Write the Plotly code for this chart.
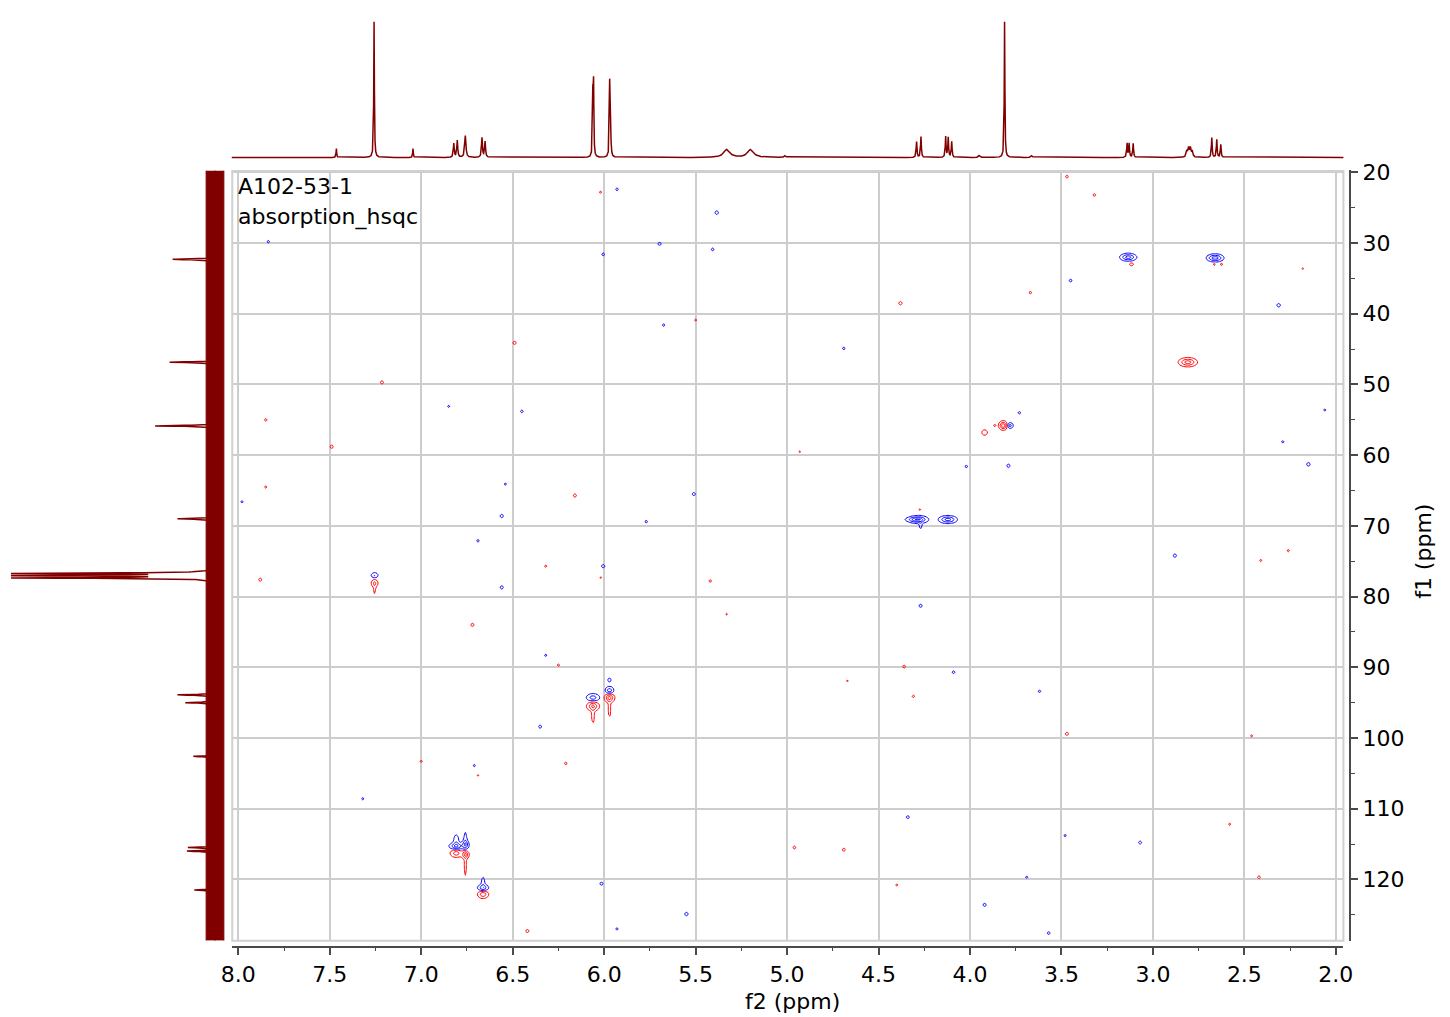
import numpy as np
import plotly.graph_objects as go

W, H = 1450, 1017

# ---------------- 1H projection (top) ----------------
h1_shift = [7.464, 7.258, 7.045, 6.822, 6.803, 6.759, 6.668, 6.651, 6.062, 6.058,
            5.970, 5.966, 5.33, 5.20, 5.01, 4.292, 4.268, 4.133, 4.119, 4.100,
            3.95, 3.811, 3.663, 3.141, 3.130, 3.108, 2.815, 2.805, 2.795, 2.785,
            2.678, 2.651, 2.629]
h1_height = [9, 137, 9, 14, 17, 22, 20, 16, 60, 70,
             68, 58, 8, 8, 2, 16, 21, 21, 20, 16,
             2, 137, 2, 14, 14, 14, 6, 9, 9, 6,
             20, 18, 13]
h1_fwhm = [0.004, 0.004, 0.004, 0.006, 0.006, 0.008, 0.006, 0.006, 0.004, 0.004,
           0.004, 0.004, 0.04, 0.04, 0.01, 0.005, 0.005, 0.005, 0.005, 0.005,
           0.01, 0.004, 0.01, 0.005, 0.005, 0.005, 0.008, 0.008, 0.008, 0.008,
           0.005, 0.005, 0.005]

# ---------------- 13C projection (left) ----------------
c13_shift = [32.3, 46.85, 55.85, 69.0, 76.72, 77.04, 77.36, 93.9, 95.0, 102.6,
             115.5, 116.0, 121.5]
c13_height = [43, 47, 62, 38, 198, 198, 198, 38, 30, 22, 27, 28, 21]
c13_noise = 9

# ---------------- HSQC cross peaks ----------------
# (f2 ppm, f1 ppm, signed intensity, f2 width ppm, f1 width ppm)
hsqc_f2 = [7.255, 7.255, 7.255,
           6.809, 6.809, 6.759, 6.759, 6.809, 6.759, 6.759,
           6.662, 6.662, 6.662,
           6.061, 6.061, 6.061, 5.971, 5.971, 5.971, 5.971,
           4.283, 4.270, 4.310, 4.121,
           3.782, 3.818, 3.865, 3.920,
           3.135, 3.117, 2.675, 2.645, 2.665, 2.625, 2.809]
hsqc_f1 = [77.0, 78.1, 79.0,
           115.3, 114.5, 115.1, 114.3, 116.3, 116.5, 118.0,
           121.2, 120.4, 122.1,
           94.3, 95.5, 96.8, 93.3, 91.8, 94.3, 95.9,
           69.1, 69.8, 69.1, 69.1,
           55.8, 55.8, 55.8, 56.8,
           32.0, 33.0, 32.1, 32.1, 33.0, 33.0, 46.85]
hsqc_amp = [1.6, -1.6, -0.8,
            2.5, 1.2, 2.2, 1.0, -2.0, -2.5, -1.0,
            2.2, 1.0, -2.2,
            2.0, -2.5, -1.0, 2.2, 0.9, -2.8, -1.0,
            3.0, 1.0, 1.0, 3.0,
            2.0, -3.2, -0.8, -1.5,
            3.0, -1.2, 2.0, 2.0, -0.9, -0.9, -3.0]
hsqc_w2 = [0.012, 0.012, 0.005,
           0.022, 0.010, 0.012, 0.006, 0.020, 0.012, 0.005,
           0.018, 0.007, 0.018,
           0.022, 0.020, 0.006, 0.014, 0.008, 0.016, 0.005,
           0.030, 0.006, 0.030, 0.028,
           0.011, 0.014, 0.006, 0.010,
           0.025, 0.008, 0.020, 0.020, 0.005, 0.005, 0.028]
hsqc_w1 = [0.25, 0.35, 0.6,
           0.30, 0.60, 0.40, 0.80, 0.35, 0.35, 1.2,
           0.30, 0.60, 0.35,
           0.35, 0.40, 0.9, 0.35, 0.25, 0.40, 1.0,
           0.30, 0.50, 0.20, 0.30,
           0.25, 0.35, 0.16, 0.25,
           0.30, 0.15, 0.30, 0.30, 0.15, 0.15, 0.35]

# small isolated spots (f2, f1, signed intensity)
spot_f2 = [5.385, 5.697, 6.005, 5.407, 7.836, 3.45, 2.313, 4.69, 5.675, 5.93,
           6.45, 6.85, 4.02, 3.79, 3.73, 2.06, 2.15, 2.29, 7.98, 5.51,
           6.56, 5.77, 6.54, 6.69, 6.005, 6.56, 2.88, 4.27, 6.32, 4.09,
           3.62, 6.35, 6.71, 7.32, 4.34, 3.48, 3.07, 3.69, 6.015, 5.55,
           3.92, 5.93, 3.57,
           6.49, 5.50, 3.67, 3.32, 3.47, 4.38, 6.02, 2.18, 7.215, 7.85,
           7.49, 4.93, 7.85, 6.16, 6.32, 6.02, 5.42, 7.88, 2.41, 2.26,
           6.72, 5.33, 6.25, 4.36, 4.67, 4.31, 3.47, 2.46, 7.00, 6.21,
           6.69, 2.58, 4.96, 4.69, 2.42, 4.40, 6.42, 4.274]
spot_f1 = [25.7, 30.1, 31.6, 30.9, 29.8, 35.3, 38.8, 44.9, 41.6, 22.4,
           53.8, 53.1, 61.6, 61.5, 54.0, 53.6, 61.3, 58.1, 66.6, 65.5,
           68.6, 69.4, 64.1, 72.1, 75.7, 78.7, 74.2, 81.3, 88.3, 90.7,
           93.4, 98.4, 103.9, 108.6, 111.2, 113.8, 114.8, 119.7, 120.6, 124.9,
           123.6, 127.0, 127.6,
           44.1, 40.9, 37.0, 23.2, 20.6, 38.5, 22.8, 33.6, 49.7, 55.0,
           58.8, 59.5, 64.5, 65.7, 75.7, 77.3, 77.8, 77.6, 74.9, 73.5,
           84.0, 82.5, 89.7, 89.9, 91.9, 94.1, 99.4, 99.7, 103.3, 103.6,
           105.3, 112.2, 115.5, 115.8, 119.7, 120.8, 127.3, 67.7]
spot_amp = [1.5, 1.2, 1.0, 1.0, 0.9, 1.0, 1.5, 0.9, 0.9, 0.9,
            1.0, 0.8, 0.9, 1.3, 0.9, 0.8, 1.5, 0.8, 0.8, 1.2,
            1.3, 0.9, 0.8, 0.9, 1.3, 1.2, 1.3, 1.2, 0.8, 1.0,
            0.9, 1.1, 0.8, 0.8, 1.1, 0.8, 1.2, 0.8, 1.2, 1.4,
            1.2, 0.8, 1.0,
            -1.3, -0.8, -0.9, -1.0, -1.0, -1.4, -0.8, -0.7, -1.2, -0.9,
            -1.3, -0.7, -0.8, -1.2, -0.8, -0.7, -0.9, -1.2, -0.8, -0.8,
            -1.2, -0.7, -0.8, -1.0, -0.7, -0.9, -1.2, -0.8, -0.8, -0.9,
            -0.7, -0.8, -1.1, -1.1, -1.1, -0.8, -1.2, -0.7]

f2_tick_labels = [f"{v:.1f}" for v in np.arange(2.0, 8.01, 0.5)]
f1_tick_labels = [str(v) for v in range(20, 121, 10)]

# ---------------- geometry (page pixels -> paper) ----------------
def fx(p):
    return p / W

def fy(p):
    return 1 - p / H

X_RANGE = [8.036, 1.9585]
Y_RANGE = [128.68, 19.72]
DARK_RED = "#800000"
FONT = "DejaVu Sans"

# 1H trace
x1 = np.arange(1.955, 8.04, 0.0005)
y1 = np.zeros_like(x1)
for s, h, w in zip(h1_shift, h1_height, h1_fwhm):
    y1 += h / (1 + ((x1 - s) / (w / 2)) ** 2)

# 13C trace
f1grid = np.arange(19.72, 128.68, 0.02)
c13 = np.zeros_like(f1grid)
for s, h in zip(c13_shift, c13_height):
    c13 += h / (1 + ((f1grid - s) / 0.07) ** 2)

# HSQC grid
gx = np.arange(1.95, 8.045, 0.007)
gy = np.arange(19.6, 128.8, 0.18)
GX, GY = np.meshgrid(gx, gy)
Z = np.zeros_like(GX)
peaks = list(zip(hsqc_f2, hsqc_f1, hsqc_amp, hsqc_w2, hsqc_w1))
peaks += [(a, b, c, 0.006, 0.16) for a, b, c in zip(spot_f2, spot_f1, spot_amp)]
for c2, c1, a, s2, s1 in peaks:
    Z += a * np.exp(-0.5 * (((GX - c2) / s2) ** 2 + ((GY - c1) / s1) ** 2))
Z[np.abs(Z) < 1e-4] = 0
Z = Z.astype(np.float32)

fig = go.Figure()

fig.add_trace(go.Contour(
    x=gx, y=gy, z=Z, xaxis="x", yaxis="y",
    autocontour=False,
    contours=dict(start=-5.5, end=5.5, size=1.0, coloring="lines", showlabels=False),
    colorscale=[[0, "#ff0000"], [0.499, "#ff0000"], [0.501, "#0000ff"], [1, "#0000ff"]],
    showscale=False, line=dict(width=1), hoverinfo="skip",
))

fig.add_trace(go.Scatter(
    x=x1, y=y1, xaxis="x2", yaxis="y2", mode="lines",
    line=dict(color=DARK_RED, width=1.5), hoverinfo="skip",
))

# 13C noise band (constant noise level) then the spectrum itself
band_hi = np.full_like(f1grid, c13_noise)
band_lo = np.full_like(f1grid, -c13_noise)
fig.add_trace(go.Scatter(
    x=band_hi, y=f1grid, xaxis="x3", yaxis="y3", mode="lines",
    line=dict(color=DARK_RED, width=1), hoverinfo="skip",
))
fig.add_trace(go.Scatter(
    x=band_lo, y=f1grid, xaxis="x3", yaxis="y3", mode="lines",
    line=dict(color=DARK_RED, width=1), fill="tonextx", fillcolor=DARK_RED,
    hoverinfo="skip",
))
fig.add_trace(go.Scatter(
    x=c13, y=f1grid, xaxis="x3", yaxis="y3", mode="lines",
    line=dict(color=DARK_RED, width=1.5), hoverinfo="skip",
))

axis_line = "#4a4a4a"
grid_col = "#cdcdcd"

fig.update_layout(
    width=W, height=H,
    margin=dict(l=0, r=0, t=0, b=0),
    paper_bgcolor="white", plot_bgcolor="rgba(0,0,0,0)",
    showlegend=False,
    font=dict(family=FONT, size=22, color="black"),
    xaxis=dict(
        domain=[fx(224), fx(1352)], range=X_RANGE, anchor="free", position=fy(946),
        tickmode="array", tickvals=[float(v) for v in f2_tick_labels], ticktext=f2_tick_labels,
        ticks="outside", ticklen=8, tickwidth=1.5, tickcolor=axis_line,
        minor=dict(dtick=0.25, tick0=0, ticks="outside", ticklen=4, tickwidth=1.2,
                   tickcolor=axis_line, showgrid=False),
        showline=True, linecolor=axis_line, linewidth=1.5,
        showgrid=True, gridcolor=grid_col, gridwidth=1.5, zeroline=False,
        tickfont=dict(family=FONT, size=22, color="black"),
    ),
    yaxis=dict(
        domain=[fy(940), fy(162)], range=Y_RANGE, anchor="free", position=fx(1359),
        side="right",
        tickmode="array", tickvals=[int(v) for v in f1_tick_labels], ticktext=f1_tick_labels,
        ticks="outside", ticklen=7, tickwidth=1.5, tickcolor=axis_line,
        minor=dict(dtick=5, tick0=0, ticks="outside", ticklen=4, tickwidth=1.2,
                   tickcolor=axis_line, showgrid=False),
        showline=True, linecolor=axis_line, linewidth=1.5,
        showgrid=True, gridcolor=grid_col, gridwidth=1.5, zeroline=False,
        tickfont=dict(family=FONT, size=22, color="black"),
    ),
    xaxis2=dict(domain=[fx(224), fx(1352)], range=X_RANGE, anchor="y2", visible=False),
    yaxis2=dict(domain=[fy(155), fy(8)], range=[-6, 141], anchor="x2", visible=False),
    xaxis3=dict(domain=[fx(0), fx(222)], range=[207, -15], anchor="y3", visible=False),
    yaxis3=dict(domain=[fy(940), fy(162)], range=Y_RANGE, anchor="x3", visible=False),
    shapes=[dict(type="rect", xref="paper", yref="paper",
                 x0=fx(224.5), x1=fx(1352), y0=fy(940), y1=fy(162.5),
                 line=dict(color="#d0d0d0", width=2), fillcolor="rgba(0,0,0,0)")],
    annotations=[
        dict(text="A102-53-1", xref="paper", yref="paper", x=fx(228), y=fy(178),
             xanchor="left", yanchor="middle", showarrow=False,
             font=dict(family=FONT, size=22, color="black")),
        dict(text="absorption_hsqc", xref="paper", yref="paper", x=fx(228), y=fy(209),
             xanchor="left", yanchor="middle", showarrow=False,
             font=dict(family=FONT, size=22, color="black")),
        dict(text="f2 (ppm)", xref="paper", yref="paper", x=fx(793), y=fy(1001),
             xanchor="center", yanchor="middle", showarrow=False,
             font=dict(family=FONT, size=22, color="black")),
        dict(text="f1 (ppm)", xref="paper", yref="paper", x=fx(1433), y=fy(547),
             xanchor="center", yanchor="middle", showarrow=False, textangle=-90,
             font=dict(family=FONT, size=22, color="black")),
    ],
)

fig.write_html("out.html", config={"displayModeBar": False},
               post_script="document.body.style.margin='0';")
